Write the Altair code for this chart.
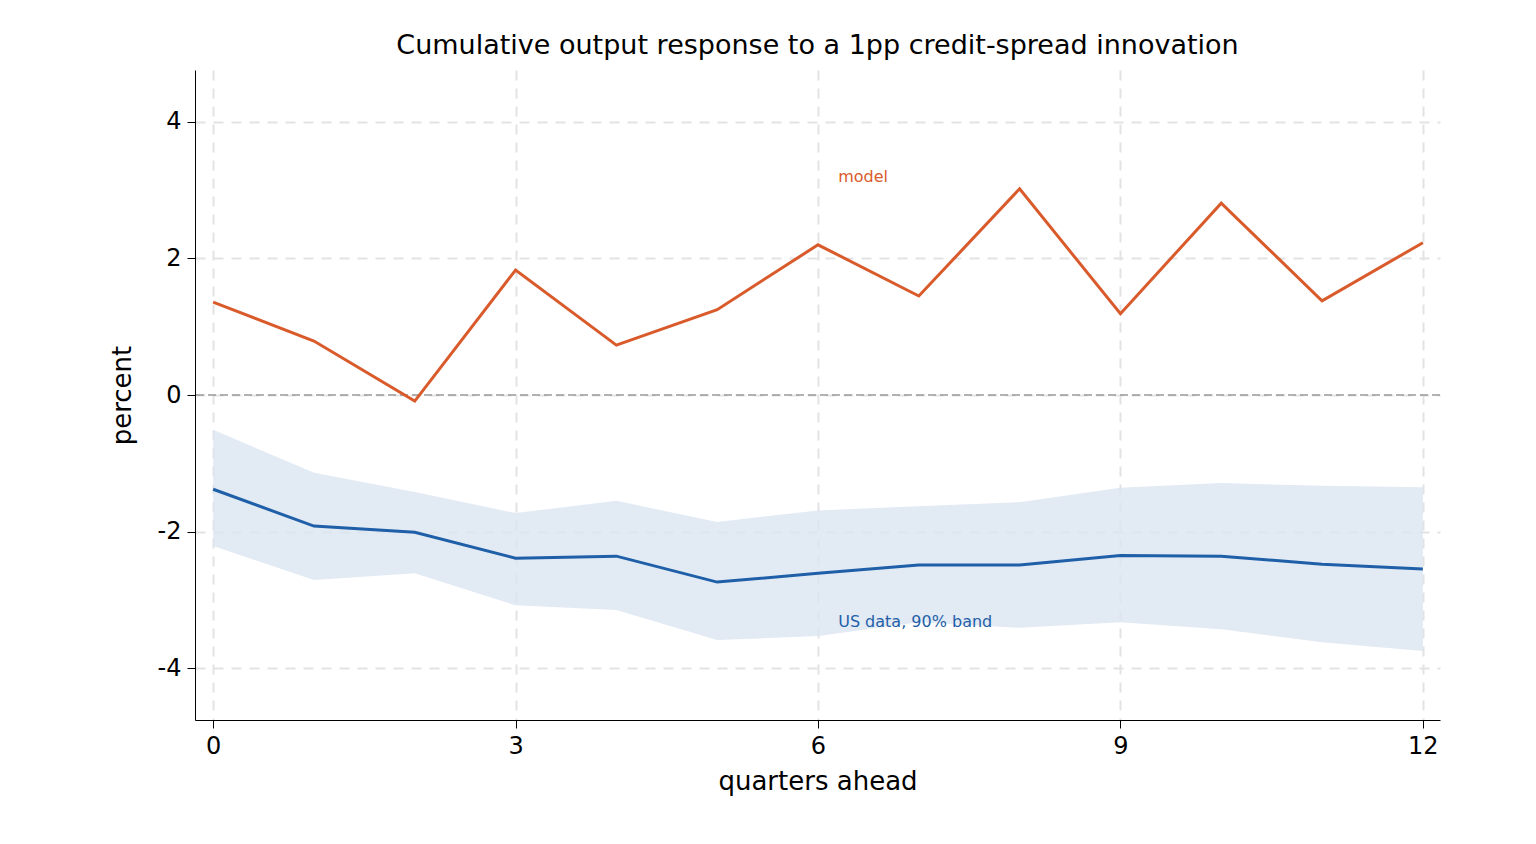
import altair as alt
import pandas as pd

quarters = list(range(13))
model = [1.36, 0.79, -0.09, 1.83, 0.73, 1.25, 2.20, 1.45, 3.02, 1.19, 2.81, 1.38, 2.23]
us_data = [-1.38, -1.92, -2.01, -2.39, -2.36, -2.74, -2.61, -2.49, -2.49, -2.35, -2.36, -2.48, -2.55]
band_hi = [-0.51, -1.14, -1.42, -1.73, -1.55, -1.86, -1.69, -1.63, -1.57, -1.36, -1.29, -1.33, -1.35]
band_lo = [-2.21, -2.71, -2.61, -3.08, -3.15, -3.59, -3.53, -3.33, -3.41, -3.33, -3.43, -3.62, -3.75]

df = pd.DataFrame({"q": quarters, "model": model, "us": us_data, "hi": band_hi, "lo": band_lo})
labels = pd.DataFrame({"q": [6.2, 6.2], "y": [3.2, -3.33],
                       "text": ["model", "US data, 90% band"],
                       "c": ["#d95a2b", "#1f5fa8"]})

xs = alt.Scale(domain=[-0.18, 12.17], nice=False, zero=False)
ys = alt.Scale(domain=[-4.76, 4.76], nice=False, zero=False)
FONT = "DejaVu Sans"

base = alt.Chart(df)
band = base.mark_area(color="#dbe5f1", opacity=0.8).encode(
    x=alt.X("q:Q", scale=xs,
            axis=alt.Axis(values=[0, 3, 6, 9, 12], title="quarters ahead", grid=True,
                          labelExpr="format(datum.value, 'd')",
                          gridDash=[10, 8], gridColor="#e3e3e3", gridWidth=2,
                          domainColor="black", tickColor="black", labelFontSize=24,
                          titleFontSize=26, titlePadding=10, labelPadding=6,
                          titleFontWeight="normal")),
    y=alt.Y("hi:Q", scale=ys,
            axis=alt.Axis(values=[-4, -2, 0, 2, 4], title="percent", grid=True,
                          labelExpr="replace(format(datum.value, 'd'), '−', '-')",
                          gridDash=[10, 8], gridColor="#e3e3e3", gridWidth=2,
                          domainColor="black", tickColor="black", labelFontSize=24,
                          titleFontSize=26, titlePadding=22, labelPadding=6,
                          titleFontWeight="normal")),
    y2="lo:Q",
)
zero = alt.Chart(pd.DataFrame({"y": [0]})).mark_rule(
    color="#999999", strokeDash=[8, 4], strokeWidth=1.5).encode(y=alt.Y("y:Q", scale=ys))
line_model = base.mark_line(color="#d95a2b", strokeWidth=3).encode(
    x=alt.X("q:Q", scale=xs), y=alt.Y("model:Q", scale=ys))
line_us = base.mark_line(color="#1f5fa8", strokeWidth=3).encode(
    x=alt.X("q:Q", scale=xs), y=alt.Y("us:Q", scale=ys))
text = alt.Chart(labels).mark_text(align="left", fontSize=16, font=FONT).encode(
    x=alt.X("q:Q", scale=xs), y=alt.Y("y:Q", scale=ys),
    text="text:N", color=alt.Color("c:N", scale=None))

chart = (band + zero + line_model + line_us + text).properties(
    width=1245, height=650,
    autosize=alt.AutoSizeParams(type="none"),
    padding={"left": 187, "top": 62, "right": 80, "bottom": 110},
    title=alt.TitleParams("Cumulative output response to a 1pp credit-spread innovation",
                          fontSize=27, fontWeight="normal", font=FONT, offset=10),
).configure_view(stroke=None).configure_axis(
    labelFont=FONT, titleFont=FONT, labelColor="black", titleColor="black", tickSize=8
)

chart.save("out.html", embed_options={"renderer": "svg", "actions": False})
